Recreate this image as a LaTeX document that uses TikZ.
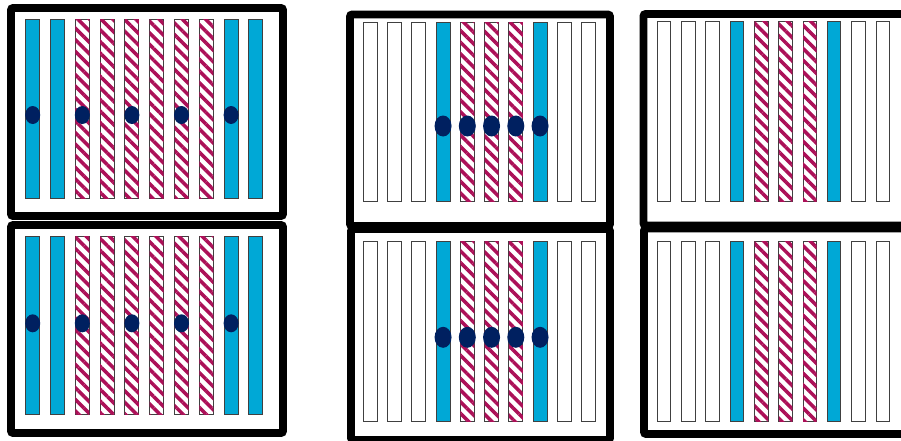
\documentclass[tikz,border=0pt]{standalone}
\usepackage{tikz}
\usetikzlibrary{patterns.meta}
\definecolor{barblue}{RGB}{0,168,214}
\definecolor{stripe}{RGB}{172,16,88}
\definecolor{pinnavy}{RGB}{0,32,96}

\begin{document}
\begin{tikzpicture}[
  x=0.03cm, y=-0.03cm,
  panel/.style={draw=black, line width=6.8pt, rounded corners=2pt},
  bar/.style={draw=black!75, line width=0.8pt, fill=white},
  bluebar/.style={bar, fill=barblue},
  hatchbar/.style={bar, postaction={pattern={Lines[angle=-45, distance=7pt, line width=3pt]}, pattern color=stripe}},
  pin/.style={fill=pinnavy}
]

\fill[white] (0,0) rectangle (901,440);
\useasboundingbox (0,0) rectangle (901,440);

% frames
\draw[panel] (11,8)      rectangle (283,216);
\draw[panel] (11,225)    rectangle (283,433);
\draw[panel] (350,14.5)  rectangle (610,226);
\draw[panel] (351,229)   rectangle (610,440);
\draw[panel] (643.5,14)  rectangle (905,225.5);
\draw[panel] (644,228.5) rectangle (905,434);

% left pair: ten bars, five pins
\foreach \yt/\yb/\yd in {19.3/198.3/115, 236.7/414.3/323.3}{
  \foreach \i/\kind in {1/bluebar,2/bluebar,3/hatchbar,4/hatchbar,5/hatchbar,6/hatchbar,7/hatchbar,8/hatchbar,9/bluebar,10/bluebar}
    \draw[\kind] ({25.7+(\i-1)*24.8},\yt) rectangle ++(14,\yb-\yt);
  \foreach \i in {1,3,5,7,9}
    \fill[pin] ({32.7+(\i-1)*24.8},\yd) ellipse[x radius=7.5, y radius=9];
}

% middle pair
\foreach \yt/\yb/\yd in {22.3/201.7/126, 241.7/421.7/337.3}{
  \foreach \i/\kind in {1/bar,2/bar,3/bar,4/bluebar,5/hatchbar,6/hatchbar,7/hatchbar,8/bluebar,9/bar,10/bar}
    \draw[\kind] ({363.3+(\i-1)*24.25},\yt) rectangle ++(14,\yb-\yt);
  \foreach \i in {4,...,8}
    \fill[pin] ({370.3+(\i-1)*24.25},\yd) ellipse[x radius=8.5, y radius=10.5];
}

% right pair, no pins
\foreach \yt/\yb in {21.7/201.7, 241.7/421}{
  \foreach \i/\kind in {1/bar,2/bar,3/bar,4/bluebar,5/hatchbar,6/hatchbar,7/hatchbar,8/bluebar,9/bar,10/bar}
    \draw[\kind] ({657.3+(\i-1)*24.3},\yt) rectangle ++(13.5,\yb-\yt);
}

\end{tikzpicture}
\end{document}
